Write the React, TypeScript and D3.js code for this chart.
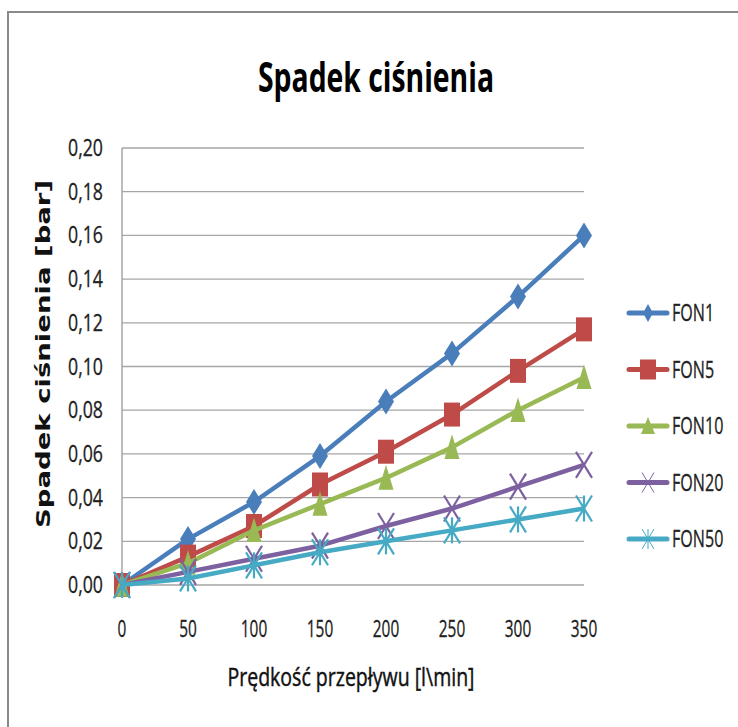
import React from "react";
import * as d3 from "d3";

const flows = [0, 50, 100, 150, 200, 250, 300, 350];
const seriesNames = ["FON1", "FON5", "FON10", "FON20", "FON50"];
const fon1 = [0, 0.021, 0.038, 0.059, 0.084, 0.106, 0.132, 0.16];
const fon5 = [0, 0.013, 0.027, 0.046, 0.061, 0.078, 0.098, 0.117];
const fon10 = [0, 0.01, 0.025, 0.037, 0.049, 0.063, 0.08, 0.095];
const fon20 = [0, 0.006, 0.012, 0.018, 0.027, 0.035, 0.045, 0.055];
const fon50 = [0, 0.003, 0.009, 0.015, 0.02, 0.025, 0.03, 0.035];
const yTicks = [0, 0.02, 0.04, 0.06, 0.08, 0.1, 0.12, 0.14, 0.16, 0.18, 0.2];

const colors = ["#4A7EBB", "#BE4B48", "#98B954", "#7D60A0", "#46AAC5"];
const markers = ["diamond", "square", "triangle", "x", "star"];

const W = 738;
const H = 727;
const margin = { top: 148, left: 122, right: 154, bottom: 142 };
const font = "'Open Sans', sans-serif";

// narrow glyphs: squeeze text to the width seen in the picture
const squeeze = (s: string, per: number) => s.length * per;

function Marker({ type, color, x, y, legend }: any) {
  const t = `translate(${x},${y})`;
  if (type === "diamond") {
    const w = legend ? 5 : 8, h = legend ? 9 : 13;
    return <path transform={t} d={`M0,${-h}L${w},0L0,${h}L${-w},0Z`} fill={color} />;
  }
  if (type === "square") {
    const w = legend ? 8 : 8, h = legend ? 10 : 12;
    return <rect transform={t} x={-w} y={-h} width={2 * w} height={2 * h} fill={color} />;
  }
  if (type === "triangle") {
    const w = legend ? 7 : 7.5, h = legend ? 9 : 13;
    return <path transform={t} d={`M0,${-h}L${w},${h * 0.9}L${-w},${h * 0.9}Z`} fill={color} />;
  }
  const w = legend ? 6 : 8, h = legend ? 10 : 13;
  const sw = legend ? 1 : 2.2;
  return (
    <g transform={t} stroke={color} strokeWidth={sw}>
      <line x1={-w} y1={-h} x2={w} y2={h} />
      <line x1={-w} y1={h} x2={w} y2={-h} />
      {type === "star" && <line x1={0} y1={-h} x2={0} y2={h} />}
    </g>
  );
}

export default function App() {
  const series = [fon1, fon5, fon10, fon20, fon50];
  const x = d3.scaleLinear().domain([0, 350]).range([margin.left, W - margin.right]);
  const y = d3.scaleLinear().domain([0, 0.2]).range([H - margin.bottom, margin.top]);
  const line = d3
    .line<number>()
    .x((_, i) => x(flows[i]))
    .y((d) => y(d));
  const fmt = (v: number) => d3.format(".2f")(v).replace(".", ",");

  return (
    <svg
      width={W}
      height={H}
      style={{ position: "absolute", left: 0, top: 0, background: "#fff" }}
    >
      <rect x={8} y={12} width={W} height={H} fill="#fff" stroke="#8a8a8a" strokeWidth={2} />

      {/* title */}
      <text
        x={376}
        y={92}
        textAnchor="middle"
        fontFamily={font}
        fontWeight="bold"
        fontSize={41}
        textLength={236}
        lengthAdjust="spacingAndGlyphs"
      >
        Spadek ciśnienia
      </text>

      {/* grid */}
      {yTicks.map((t) => (
        <g key={t}>
          <line x1={x(0)} x2={x(350)} y1={y(t)} y2={y(t)} stroke="#a6a6a6" strokeWidth={1.3} />
          <text
            x={103}
            y={y(t) + 8}
            textAnchor="end"
            fontFamily={font}
            fontSize={23}
            fill="#222"
            stroke="#222"
            strokeWidth={0.3}
            textLength={35}
            lengthAdjust="spacingAndGlyphs"
          >
            {fmt(t)}
          </text>
        </g>
      ))}
      <line x1={x(0)} x2={x(0)} y1={y(0.2)} y2={y(0)} stroke="#a6a6a6" strokeWidth={1.5} />

      {flows.map((f) => (
        <text
          key={f}
          x={x(f)}
          y={637}
          textAnchor="middle"
          fontFamily={font}
          fontSize={23}
          fill="#222"
          stroke="#222"
          strokeWidth={0.3}
          textLength={squeeze(String(f), 8.8)}
          lengthAdjust="spacingAndGlyphs"
        >
          {f}
        </text>
      ))}

      <text
        x={351}
        y={686}
        textAnchor="middle"
        fontFamily={font}
        fontSize={25}
        textLength={247}
        lengthAdjust="spacingAndGlyphs"
        fill="#111"
        stroke="#111"
        strokeWidth={0.45}
      >
        Prędkość przepływu [l\min]
      </text>

      <text
        transform={`translate(50,354) rotate(-90)`}
        textAnchor="middle"
        fontFamily="'DejaVu Sans', sans-serif"
        fontWeight="bold"
        fontSize={20}
        textLength={348}
        lengthAdjust="spacingAndGlyphs"
        fill="#111"
      >
        Spadek ciśnienia [bar]
      </text>

      {/* series */}
      {series.map((s, si) => (
        <g key={seriesNames[si]}>
          <path d={line(s) || ""} fill="none" stroke={colors[si]} strokeWidth={4.5} strokeLinejoin="round" />
          {s.map((v, i) => (
            <Marker key={i} type={markers[si]} color={colors[si]} x={x(flows[i])} y={y(v)} />
          ))}
        </g>
      ))}

      {/* legend */}
      {seriesNames.map((n, i) => {
        const ly = 313 + i * 56.5;
        return (
          <g key={n}>
            <line x1={629} x2={667} y1={ly} y2={ly} stroke={colors[i]} strokeWidth={5} strokeLinecap="round" />
            <Marker type={markers[i]} color={colors[i]} x={648} y={ly} legend />
            <text
              transform={`translate(672,${ly + 8}) scale(0.7,1)`}
              fontFamily={font}
              fontSize={23}
              fill="#222"
              stroke="#222"
              strokeWidth={0.3}
            >
              {n}
            </text>
          </g>
        );
      })}
    </svg>
  );
}
